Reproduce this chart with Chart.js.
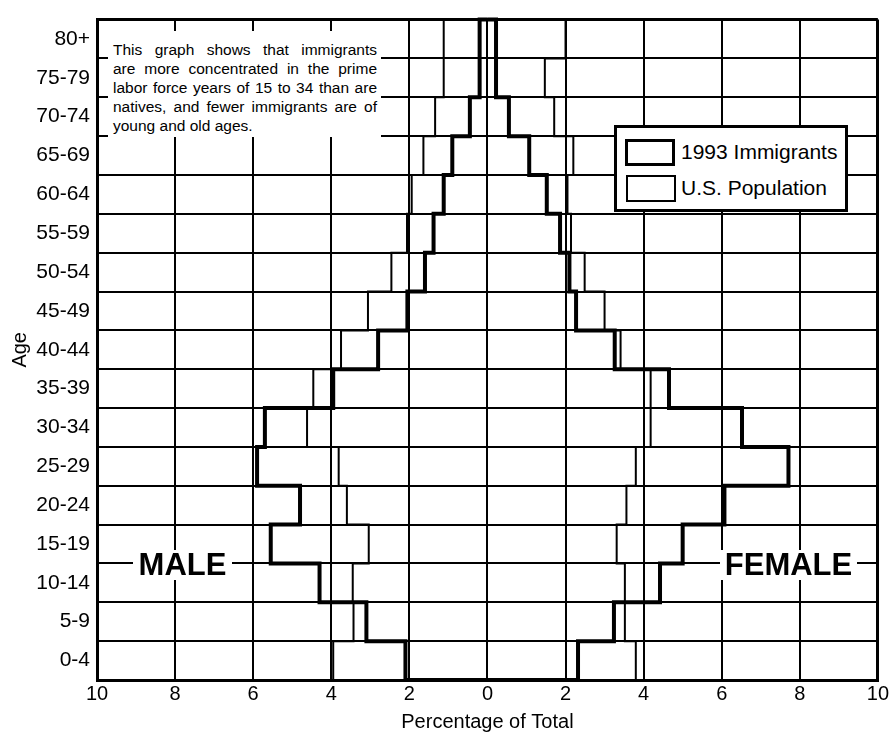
<!DOCTYPE html>
<html>
<head>
<meta charset="utf-8">
<script src="https://cdn.jsdelivr.net/npm/chart.js@4/dist/chart.umd.min.js"></script>
<style>
  body { margin: 0; background: #fff; font-family: 'Liberation Sans', Arial, Helvetica, sans-serif; color: #000; }
  #wrap { position: relative; width: 891px; height: 735px; }
  .box { position: absolute; background: #fff; }
  .note { left: 108px; top: 31px; width: 273px; height: 106px; }
  .note .lines { position: absolute; left: 5px; top: 9px; width: 264px; font-size: 15.5px; line-height: 19px; }
  .note .lines div { text-align: justify; text-align-last: justify; }
  .note .lines div.last { text-align-last: left; }
  .big { font-weight: bold; font-size: 31px; line-height: 30px; text-align: center; }
  .legend { left: 614px; top: 125px; width: 234px; height: 87px; box-sizing: border-box; border: 3px solid #000; }
  .sw { position: absolute; box-sizing: border-box; width: 50px; height: 27px; border: 2px solid #000; }
  .lt { position: absolute; left: 64px; font-size: 21px; line-height: 24px; white-space: nowrap; }
</style>
</head>
<body>
<div id="wrap">
  <canvas id="myChart"></canvas>

  <!-- 설명 문구 -->
  <div class="box note">
    <div class="lines">
      <div>This graph shows that immigrants</div>
      <div>are more concentrated in the prime</div>
      <div>labor force years of 15 to 34 than are</div>
      <div>natives, and fewer immigrants are of</div>
      <div class="last">young and old ages.</div>
    </div>
  </div>

  <div class="box big" style="left:133px; top:550px; width:99px; height:30px;">MALE</div>
  <div class="box big" style="left:720px; top:550px; width:137px; height:30px;">FEMALE</div>

  <!-- 범례 -->
  <div class="box legend">
    <div class="sw" style="left:8px; top:11px; border-width:3.5px;"></div>
    <div class="lt" style="top:12px;">1993 Immigrants</div>
    <div class="sw" style="left:9px; top:47px;"></div>
    <div class="lt" style="top:48px;">U.S. Population</div>
  </div>
</div>

<script>
// 연령대 (아래에서 위로)
const ageGroups = ['0-4', '5-9', '10-14', '15-19', '20-24', '25-29', '30-34', '35-39', '40-44',
                   '45-49', '50-54', '55-59', '60-64', '65-69', '70-74', '75-79', '80+'];

// 1993 이민자 비율 (%)
const maleImmigrants   = [2.1, 3.1, 4.3, 5.55, 4.8, 5.9, 5.7, 3.95, 2.8, 2.05, 1.6, 1.38, 1.12, 0.9, 0.45, 0.2, 0.2];
const femaleImmigrants = [2.32, 3.24, 4.42, 5.0, 6.07, 7.71, 6.52, 4.65, 3.26, 2.27, 2.1, 1.86, 1.52, 1.07, 0.55, 0.22, 0.22];

// 미국 전체 인구 비율 (%)
const maleUS   = [3.95, 3.43, 3.45, 3.04, 3.6, 3.81, 4.62, 4.46, 3.75, 3.06, 2.46, 2.06, 1.94, 1.64, 1.34, 1.12, 1.12];
const femaleUS = [3.8, 3.52, 3.52, 3.31, 3.56, 3.8, 4.18, 4.18, 3.41, 3.0, 2.49, 2.14, 2.05, 2.2, 1.71, 1.47, 2.0];

// x축 눈금 (남성은 음수 쪽)
const xTickValues = [-10, -8, -6, -4, -2, 0, 2, 4, 6, 8, 10];

// 계단형 외곽선 점 만들기: 각 연령대 구간의 아래 경계에서 시작
function outline(values, sign) {
    const pts = [{ x: 0, y: 0 }];
    values.forEach((v, i) => pts.push({ x: sign * v, y: i }));
    pts.push({ x: 0, y: values.length });
    return pts;
}

const font = { family: "'Liberation Sans', Arial, Helvetica, sans-serif", size: 20 };
const yFont = { family: "'Liberation Sans', Arial, Helvetica, sans-serif", size: 21 };

function stepSet(data, width) {
    return {
        data: data,
        showLine: true,
        stepped: 'after',
        borderColor: '#000',
        borderWidth: width,
        pointRadius: 0,
        fill: false,
        clip: false
    };
}

const ctx = document.getElementById('myChart').getContext('2d');
new Chart(ctx, {
    type: 'scatter',
    data: {
        datasets: [
            stepSet(outline(maleImmigrants, -1), 4),
            stepSet(outline(femaleImmigrants, 1), 4),
            stepSet(outline(maleUS, -1), 2),
            stepSet(outline(femaleUS, 1), 2)
        ]
    },
    options: {
        responsive: true,
        maintainAspectRatio: false,
        animation: false,
        layout: { padding: { top: 15, right: 12, left: 0, bottom: 0 } },
        plugins: { legend: { display: false }, tooltip: { enabled: false } },
        scales: {
            x: {
                type: 'linear',
                min: xTickValues[0],
                max: xTickValues[xTickValues.length - 1],
                afterBuildTicks: (axis) => { axis.ticks = xTickValues.map(v => ({ value: v })); },
                afterFit: (axis) => { axis.height = 55; },
                grid: {
                    color: '#000',
                    drawTicks: false,
                    lineWidth: (c) => (Math.abs(c.tick.value) === 10 ? 3 : 2)
                },
                border: { color: '#000', width: 3 },
                ticks: {
                    color: '#000',
                    font: font,
                    padding: 2,
                    callback: (v) => Math.abs(v)
                },
                title: {
                    display: true,
                    text: 'Percentage of Total',
                    color: '#000',
                    font: font,
                    padding: { top: 0, bottom: 1 }
                }
            },
            y: {
                type: 'linear',
                min: 0,
                max: ageGroups.length,
                afterFit: (axis) => { axis.width = 97; },
                grid: {
                    color: '#000',
                    drawTicks: false,
                    lineWidth: (c) => (c.tick.value === 0 || c.tick.value === ageGroups.length ? 3 : 2)
                },
                border: { color: '#000', width: 3 },
                ticks: {
                    stepSize: 1,
                    autoSkip: false,
                    color: '#000',
                    font: yFont,
                    padding: 7,
                    labelOffset: -19.5,
                    callback: (v) => ageGroups[v] || ''
                },
                title: {
                    display: true,
                    text: 'Age',
                    color: '#000',
                    font: font,
                    padding: { top: 8, bottom: 0 }
                }
            }
        }
    }
});
</script>
</body>
</html>
